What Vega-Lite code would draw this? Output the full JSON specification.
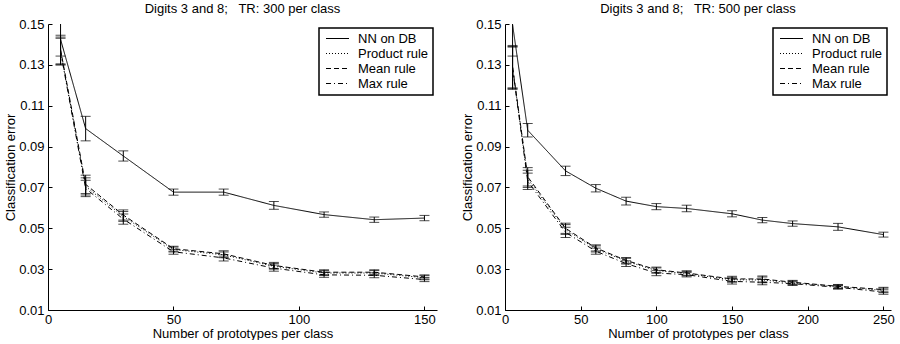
{
  "$schema": "https://vega.github.io/schema/vega-lite/v6.json",
  "background": "white",
  "padding": {"left": 4, "top": 3, "right": 0, "bottom": 0},
  "spacing": 24,
  "datasets": {
    "left": [
      {"x": 5, "series": "NN on DB", "y": 0.1425, "err": 0.0082},
      {"x": 15, "series": "NN on DB", "y": 0.0988, "err": 0.006},
      {"x": 30, "series": "NN on DB", "y": 0.0854, "err": 0.0025},
      {"x": 50, "series": "NN on DB", "y": 0.0677, "err": 0.0015},
      {"x": 70, "series": "NN on DB", "y": 0.0677, "err": 0.0015},
      {"x": 90, "series": "NN on DB", "y": 0.0612, "err": 0.0019},
      {"x": 110, "series": "NN on DB", "y": 0.0567, "err": 0.0013},
      {"x": 130, "series": "NN on DB", "y": 0.0542, "err": 0.0013},
      {"x": 150, "series": "NN on DB", "y": 0.055, "err": 0.0013},
      {"x": 5, "series": "Product rule", "y": 0.1368, "err": 0.0068},
      {"x": 15, "series": "Product rule", "y": 0.0705, "err": 0.0042},
      {"x": 30, "series": "Product rule", "y": 0.0558, "err": 0.0024},
      {"x": 50, "series": "Product rule", "y": 0.0396, "err": 0.0012},
      {"x": 70, "series": "Product rule", "y": 0.037, "err": 0.0014},
      {"x": 90, "series": "Product rule", "y": 0.0314, "err": 0.0014},
      {"x": 110, "series": "Product rule", "y": 0.0281, "err": 0.0012},
      {"x": 130, "series": "Product rule", "y": 0.0281, "err": 0.0012},
      {"x": 150, "series": "Product rule", "y": 0.0258, "err": 0.001},
      {"x": 5, "series": "Mean rule", "y": 0.1375, "err": 0.007},
      {"x": 15, "series": "Mean rule", "y": 0.0715, "err": 0.0045},
      {"x": 30, "series": "Mean rule", "y": 0.0565, "err": 0.0025},
      {"x": 50, "series": "Mean rule", "y": 0.04, "err": 0.0012},
      {"x": 70, "series": "Mean rule", "y": 0.0375, "err": 0.0015},
      {"x": 90, "series": "Mean rule", "y": 0.0318, "err": 0.0015},
      {"x": 110, "series": "Mean rule", "y": 0.0285, "err": 0.0012},
      {"x": 130, "series": "Mean rule", "y": 0.0285, "err": 0.0012},
      {"x": 150, "series": "Mean rule", "y": 0.0262, "err": 0.001},
      {"x": 5, "series": "Max rule", "y": 0.1365, "err": 0.0065},
      {"x": 15, "series": "Max rule", "y": 0.0695, "err": 0.004},
      {"x": 30, "series": "Max rule", "y": 0.0545, "err": 0.0025},
      {"x": 50, "series": "Max rule", "y": 0.0385, "err": 0.0012},
      {"x": 70, "series": "Max rule", "y": 0.0355, "err": 0.0015},
      {"x": 90, "series": "Max rule", "y": 0.0305, "err": 0.0015},
      {"x": 110, "series": "Max rule", "y": 0.0272, "err": 0.0012},
      {"x": 130, "series": "Max rule", "y": 0.027, "err": 0.0012},
      {"x": 150, "series": "Max rule", "y": 0.0249, "err": 0.001}
    ],
    "right": [
      {"x": 5, "series": "NN on DB", "y": 0.1497, "err": 0.0154},
      {"x": 15, "series": "NN on DB", "y": 0.098, "err": 0.0033},
      {"x": 40, "series": "NN on DB", "y": 0.0781, "err": 0.0023},
      {"x": 60, "series": "NN on DB", "y": 0.0696, "err": 0.0018},
      {"x": 80, "series": "NN on DB", "y": 0.0633, "err": 0.0019},
      {"x": 100, "series": "NN on DB", "y": 0.0606, "err": 0.0015},
      {"x": 120, "series": "NN on DB", "y": 0.0597, "err": 0.0016},
      {"x": 150, "series": "NN on DB", "y": 0.0571, "err": 0.0015},
      {"x": 170, "series": "NN on DB", "y": 0.054, "err": 0.0013},
      {"x": 190, "series": "NN on DB", "y": 0.0523, "err": 0.0013},
      {"x": 220, "series": "NN on DB", "y": 0.0507, "err": 0.0017},
      {"x": 250, "series": "NN on DB", "y": 0.0469, "err": 0.0012},
      {"x": 5, "series": "Product rule", "y": 0.1287, "err": 0.01},
      {"x": 15, "series": "Product rule", "y": 0.0742, "err": 0.0042},
      {"x": 40, "series": "Product rule", "y": 0.0494, "err": 0.0024},
      {"x": 60, "series": "Product rule", "y": 0.0399, "err": 0.0015},
      {"x": 80, "series": "Product rule", "y": 0.0339, "err": 0.0014},
      {"x": 100, "series": "Product rule", "y": 0.0293, "err": 0.0013},
      {"x": 120, "series": "Product rule", "y": 0.0278, "err": 0.0011},
      {"x": 150, "series": "Product rule", "y": 0.0248, "err": 0.0012},
      {"x": 170, "series": "Product rule", "y": 0.0247, "err": 0.0014},
      {"x": 190, "series": "Product rule", "y": 0.0233, "err": 0.0009},
      {"x": 220, "series": "Product rule", "y": 0.0214, "err": 0.0009},
      {"x": 250, "series": "Product rule", "y": 0.0196, "err": 0.0011},
      {"x": 5, "series": "Mean rule", "y": 0.129, "err": 0.0105},
      {"x": 15, "series": "Mean rule", "y": 0.0752, "err": 0.0045},
      {"x": 40, "series": "Mean rule", "y": 0.05, "err": 0.0025},
      {"x": 60, "series": "Mean rule", "y": 0.0404, "err": 0.0015},
      {"x": 80, "series": "Mean rule", "y": 0.0343, "err": 0.0014},
      {"x": 100, "series": "Mean rule", "y": 0.0297, "err": 0.0013},
      {"x": 120, "series": "Mean rule", "y": 0.0281, "err": 0.0011},
      {"x": 150, "series": "Mean rule", "y": 0.0252, "err": 0.0013},
      {"x": 170, "series": "Mean rule", "y": 0.0252, "err": 0.0015},
      {"x": 190, "series": "Mean rule", "y": 0.0236, "err": 0.0009},
      {"x": 220, "series": "Mean rule", "y": 0.0216, "err": 0.0009},
      {"x": 250, "series": "Mean rule", "y": 0.02, "err": 0.0011},
      {"x": 5, "series": "Max rule", "y": 0.1285, "err": 0.0105},
      {"x": 15, "series": "Max rule", "y": 0.073, "err": 0.004},
      {"x": 40, "series": "Max rule", "y": 0.048, "err": 0.0025},
      {"x": 60, "series": "Max rule", "y": 0.0388, "err": 0.0015},
      {"x": 80, "series": "Max rule", "y": 0.0327, "err": 0.0014},
      {"x": 100, "series": "Max rule", "y": 0.0281, "err": 0.0013},
      {"x": 120, "series": "Max rule", "y": 0.0273, "err": 0.0011},
      {"x": 150, "series": "Max rule", "y": 0.024, "err": 0.0013},
      {"x": 170, "series": "Max rule", "y": 0.0236, "err": 0.0013},
      {"x": 190, "series": "Max rule", "y": 0.0229, "err": 0.0009},
      {"x": 220, "series": "Max rule", "y": 0.0211, "err": 0.0009},
      {"x": 250, "series": "Max rule", "y": 0.0188, "err": 0.0011}
    ]
  },
  "config": {
    "font": "Liberation Sans",
    "view": {"stroke": null},
    "axis": {
      "grid": false,
      "domainColor": "black",
      "tickColor": "black",
      "labelColor": "black",
      "titleColor": "black",
      "labelFont": "Liberation Sans",
      "titleFont": "Liberation Sans",
      "labelFontSize": 13,
      "titleFontSize": 13,
      "titleFontWeight": "normal",
      "tickSize": -4,
      "labelPadding": 8,
      "domainWidth": 1,
      "tickWidth": 1,
      "labelFlush": false,
      "labelOverlap": false
    },
    "axisX": {"titlePadding": 1, "labelPadding": 7},
    "axisY": {"titlePadding": 1},
    "title": {"font": "Liberation Sans", "fontSize": 13, "fontWeight": "normal", "color": "black", "offset": 2},
    "legend": {
      "strokeColor": "black",
      "strokeWidth": 1.5,
      "fillColor": "white",
      "padding": 4,
      "rowPadding": 1,
      "labelFont": "Liberation Sans",
      "labelFontSize": 13,
      "labelColor": "black",
      "symbolStrokeColor": "black",
      "symbolStrokeWidth": 1,
      "labelLimit": 300
    }
  },
  "hconcat": [
    {
      "width": 389,
      "height": 286,
      "title": "Digits 3 and 8;\u00a0\u00a0 TR: 300 per class",
      "data": {"name": "left"},
      "encoding": {
        "x": {"field": "x", "type": "quantitative", "scale": {"domain": [0, 155], "nice": false}, "axis": {"values": [0, 50, 100, 150], "title": "Number of prototypes per class"}},
        "y": {"field": "y", "type": "quantitative", "scale": {"domain": [0.01, 0.15], "nice": false, "zero": false}, "axis": {"values": [0.01, 0.03, 0.05, 0.07, 0.09, 0.11, 0.13, 0.15], "format": ".2f", "title": "Classification error"}}
      },
      "layer": [
        {
          "mark": {"type": "errorbar", "ticks": {"size": 10}, "color": "black", "clip": true},
          "encoding": {"yError": {"field": "err"}, "detail": {"field": "series"}}
        },
        {
          "mark": {"type": "line", "color": "black", "strokeWidth": 1, "clip": true},
          "encoding": {
            "strokeDash": {
              "field": "series", "type": "nominal",
              "scale": {"domain": ["NN on DB", "Product rule", "Mean rule", "Max rule"], "range": [[1, 0], [1, 2], [5, 3], [5, 3, 1, 3]]},
              "legend": {"title": null, "orient": "top-right", "offset": 4, "symbolType": "M-2.3,0H2.3", "symbolSize": 100, "symbolOffset": 8, "labelOffset": 14}
            }
          }
        }
      ]
    },
    {
      "width": 386,
      "height": 286,
      "title": "Digits 3 and 8;\u00a0\u00a0 TR: 500 per class",
      "data": {"name": "right"},
      "encoding": {
        "x": {"field": "x", "type": "quantitative", "scale": {"domain": [0, 255], "nice": false}, "axis": {"values": [0, 50, 100, 150, 200, 250], "title": "Number of prototypes per class"}},
        "y": {"field": "y", "type": "quantitative", "scale": {"domain": [0.01, 0.15], "nice": false, "zero": false}, "axis": {"values": [0.01, 0.03, 0.05, 0.07, 0.09, 0.11, 0.13, 0.15], "format": ".2f", "title": "Classification error"}}
      },
      "layer": [
        {
          "mark": {"type": "errorbar", "ticks": {"size": 10}, "color": "black", "clip": true},
          "encoding": {"yError": {"field": "err"}, "detail": {"field": "series"}}
        },
        {
          "mark": {"type": "line", "color": "black", "strokeWidth": 1, "clip": true},
          "encoding": {
            "strokeDash": {
              "field": "series", "type": "nominal",
              "scale": {"domain": ["NN on DB", "Product rule", "Mean rule", "Max rule"], "range": [[1, 0], [1, 2], [5, 3], [5, 3, 1, 3]]},
              "legend": {"title": null, "orient": "top-right", "offset": 4, "symbolType": "M-2.3,0H2.3", "symbolSize": 100, "symbolOffset": 8, "labelOffset": 14}
            }
          }
        }
      ]
    }
  ],
  "resolve": {
    "scale": {"x": "independent", "y": "independent", "strokeDash": "independent"},
    "legend": {"strokeDash": "independent"}
  }
}
